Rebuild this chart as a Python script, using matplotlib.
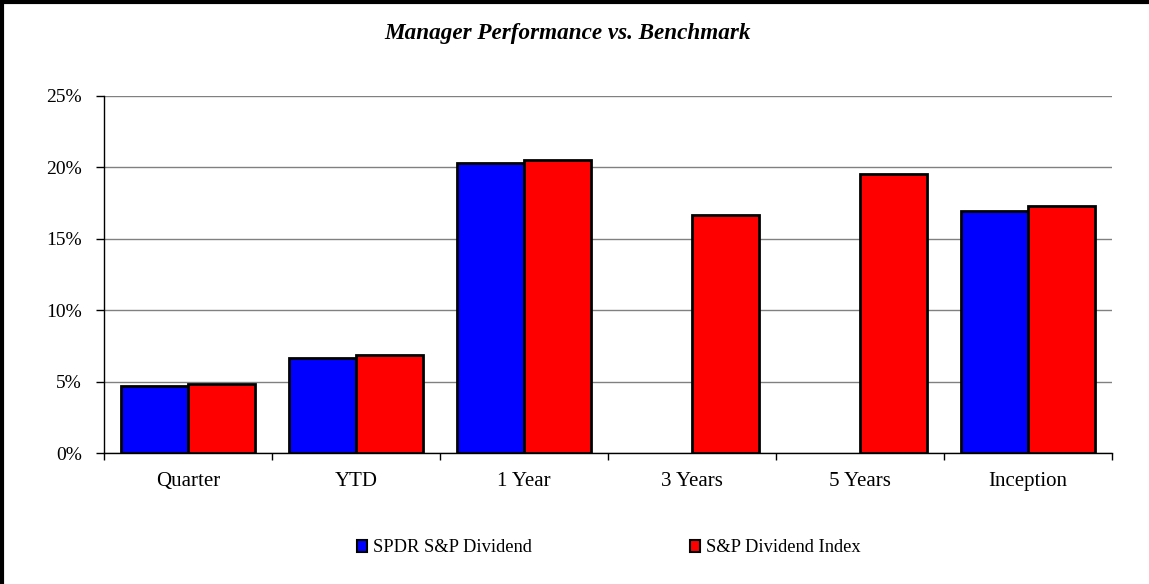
import matplotlib
matplotlib.use("Agg")
import matplotlib.pyplot as plt
import numpy as np
from matplotlib.ticker import FuncFormatter, MultipleLocator
from matplotlib.patches import Patch
from matplotlib.lines import Line2D

categories = ["Quarter", "YTD", "1 Year", "3 Years", "5 Years", "Inception"]
spdr = [4.67, 6.63, 20.29, np.nan, np.nan, 16.95]
index = [4.81, 6.86, 20.52, 16.67, 19.54, 17.28]
series_names = ["SPDR S&P Dividend", "S&P Dividend Index"]
title = "Manager Performance vs. Benchmark"

plt.rcParams['font.family'] = ['Liberation Serif', 'DejaVu Serif']

W, H = 1149, 584
fig = plt.figure(figsize=(W / 100, H / 100), dpi=100)
ax = fig.add_axes([104 / W, 1 - 453 / H, (1112 - 104) / W, (453 - 96) / H])

x = np.arange(len(categories))
bw = 0.4
ax.bar(x - bw / 2, spdr, bw, color="#0000FF", edgecolor="black", linewidth=2, zorder=3)
ax.bar(x + bw / 2, index, bw, color="#FF0000", edgecolor="black", linewidth=2, zorder=3)

ax.set_xlim(-0.5, len(categories) - 0.5)
ax.set_ylim(0, 25)
ax.yaxis.set_major_locator(MultipleLocator(5))
ax.yaxis.set_major_formatter(FuncFormatter(lambda v, p: f"{v:.0f}%"))
ax.grid(axis="y", color="#808080", linewidth=1, zorder=0)
ax.set_axisbelow(True)

ax.set_xticks(x)
ax.set_xticklabels(categories, fontsize=15)
ax.set_xticks(np.arange(len(categories) + 1) - 0.5, minor=True)
ax.tick_params(axis="x", which="major", length=0, pad=14)
ax.tick_params(axis="x", which="minor", length=5, width=1, direction="out")
ax.tick_params(axis="y", length=6, width=1, direction="out", labelsize=14, pad=10)
for s in ["top", "right"]:
    ax.spines[s].set_visible(False)
ax.spines["left"].set_linewidth(1)
ax.spines["bottom"].set_linewidth(1)

fig.text(568 / W, 1 - 33 / H, title, ha="center", va="center",
         fontsize=16.7, fontweight="bold", fontstyle="italic")

handles = [Patch(facecolor="#0000FF", edgecolor="black", linewidth=1.5),
           Patch(facecolor="#FF0000", edgecolor="black", linewidth=1.5)]
for h, name, xl in zip(handles, series_names, [357, 690]):
    fig.legend([h], [name], loc="center left", bbox_to_anchor=(xl / W, 1 - 548 / H),
               frameon=False, fontsize=13.3, handlelength=0.55, handleheight=0.55,
               handletextpad=0.3, borderpad=0, borderaxespad=0)

fig.add_artist(Line2D([1.5 / W, 1.5 / W], [0, 1], color="black", linewidth=3, transform=fig.transFigure))
fig.add_artist(Line2D([0, 1], [1 - 1.5 / H, 1 - 1.5 / H], color="black", linewidth=3, transform=fig.transFigure))

fig.savefig("out.png", dpi=100)
